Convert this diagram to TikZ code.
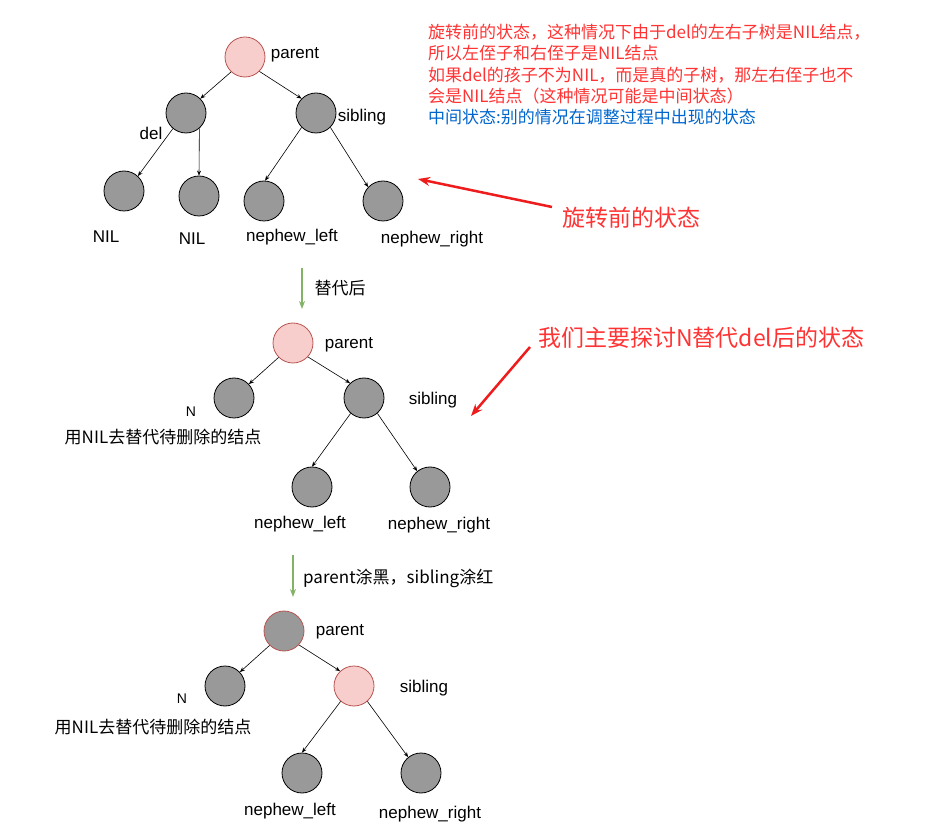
\documentclass[tikz,border=0pt]{standalone}
\usepackage{fontspec}
\setmainfont{Liberation Sans}
\newfontfamily\cjk{Noto Sans CJK SC}
\usetikzlibrary{arrows.meta}
\definecolor{gfill}{HTML}{999999}
\definecolor{pfill}{HTML}{F8CECC}
\definecolor{pline}{HTML}{B85450}
\definecolor{garrow}{HTML}{82B366}
\definecolor{rtext}{HTML}{FF3333}
\definecolor{btext}{HTML}{0066CC}
\definecolor{rarrow}{HTML}{EE1C1C}
\tikzset{
  blk/.style={circle, draw=black, fill=gfill, minimum size=40pt, inner sep=0pt, line width=0.8pt},
  rednode/.style={circle, draw=pline, fill=pfill, minimum size=40pt, inner sep=0pt, line width=0.8pt},
  blkred/.style={blk, draw=pline},
  lbl/.style={font=\fontsize{17}{20}\selectfont, inner sep=0pt, yshift=-2pt},
  nlbl/.style={font=\fontsize{14}{16}\selectfont, inner sep=0pt},
  cn/.style={font=\cjk\fontsize{17}{20}\selectfont, inner sep=0pt},
  cnsmall/.style={font=\cjk\fontsize{17}{20}\selectfont, inner sep=0pt},
  cnred/.style={font=\cjk\fontsize{17}{20}\selectfont, inner sep=0pt, text=rtext, anchor=west},
  cnbig/.style={font=\cjk\fontsize{23}{26}\selectfont, inner sep=0pt, text=rtext, anchor=west},
  tedge/.style={-{Stealth[length=5pt,width=4pt]}, line width=0.6pt},
  garr/.style={-{Stealth[length=8pt,width=6pt]}, draw=garrow, line width=1.3pt},
  rarr/.style={-{Stealth[length=12pt,width=9pt]}, draw=rarrow, line width=2.5pt},
}
\begin{document}
\begin{tikzpicture}[x=1pt,y=-1pt]
\useasboundingbox (0,0) rectangle (930,834);

% ---------- top tree ----------
\node[rednode] (p1) at (245,57) {};
\node[blk] (d1) at (186,113) {};
\node[blk] (s1) at (316,113) {};
\node[blk] (n1a) at (124,191) {};
\node[blk] (n1b) at (199,196) {};
\node[blk] (nl1) at (264,201) {};
\node[blk] (nr1) at (383,201) {};
\draw[tedge] (p1.-133) -- (d1.45);
\draw[tedge] (p1.-45) -- (s1.135);
\draw[tedge] (d1.-130) -- (n1a.47);
\draw[tedge] (d1.-49) -- (n1b.north);
\draw[tedge] (s1.-135) -- (nl1.87);
\draw[tedge] (s1.-45) -- (nr1.137);
\node[lbl] (lp1) at (295,53) {parent};
\node[lbl] (ls1) at (362,115) {sibling};
\node[lbl] (ld1) at (151,131) {del};
\node[lbl] (lna) at (106,235) {NIL};
\node[lbl] (lnb) at (192,237) {NIL};
\node[lbl] (lnl1) at (292,235) {nephew\_left};
\node[lbl] (lnr1) at (432,237) {nephew\_right};

% ---------- notes ----------
\node[cnred] (t1) at (428,32) {旋转前的状态，这种情况下由于del的左右子树是NIL结点，};
\node[cnred] (t2) at (428,53) {所以左侄子和右侄子是NIL结点};
\node[cnred] (t3) at (428,75) {如果del的孩子不为NIL，而是真的子树，那左右侄子也不};
\node[cnred] (t4) at (428,96) {会是NIL结点（这种情况可能是中间状态）};
\node[cnred, text=btext] (t5) at (428,117) {中间状态:别的情况在调整过程中出现的状态};
\node[cnbig] (big1) at (562,218) {旋转前的状态};
\node[cnbig] (big2) at (538,338) {我们主要探讨N替代del后的状态};
\coordinate (r1a) at (552,207);
\coordinate (r1b) at (418,179);
\coordinate (r2a) at (530,347);
\coordinate (r2b) at (471,416);
\draw[rarr] (r1a) -- (r1b);
\draw[rarr] (r2a) -- (r2b);

% ---------- first green step ----------
\coordinate (g1a) at (302,268);
\coordinate (g1b) at (302,309);
\draw[garr] (g1a) -- (g1b);
\node[cn] (g1l) at (340,288) {替代后};

% ---------- middle tree ----------
\node[rednode] (p2) at (293,343) {};
\node[blk] (N2) at (234,398) {};
\node[blk] (s2) at (364,398) {};
\node[blk] (nl2) at (312,487) {};
\node[blk] (nr2) at (430,487) {};
\draw[tedge] (p2.-135) -- (N2.43);
\draw[tedge] (p2.-43) -- (s2.133);
\draw[tedge] (s2.-131) -- (nl2.90);
\draw[tedge] (s2.-49) -- (nr2.129);
\node[lbl] (lp2) at (349,343) {parent};
\node[lbl] (ls2) at (433,398) {sibling};
\node[nlbl] (lN2) at (191,412) {N};
\node[cnsmall] (lr2) at (163,437) {用NIL去替代待删除的结点};
\node[lbl] (lnl2) at (300,522) {nephew\_left};
\node[lbl] (lnr2) at (439,523) {nephew\_right};

% ---------- second green step ----------
\coordinate (g2a) at (293,555);
\coordinate (g2b) at (293,597);
\draw[garr] (g2a) -- (g2b);
\node[cn, anchor=west] (g2l) at (303,578) {parent涂黑，sibling涂红};

% ---------- bottom tree ----------
\node[blkred] (p3) at (284,631) {};
\node[blk] (N3) at (225,686) {};
\node[rednode] (s3) at (354,686) {};
\node[blk] (nl3) at (302,773) {};
\node[blk] (nr3) at (421,773) {};
\draw[tedge] (p3.-135) -- (N3.43);
\draw[tedge] (p3.-43) -- (s3.133);
\draw[tedge] (s3.-131) -- (nl3.90);
\draw[tedge] (s3.-49) -- (nr3.129);
\node[lbl] (lp3) at (340,630) {parent};
\node[lbl] (ls3) at (424,686) {sibling};
\node[nlbl] (lN3) at (182,699) {N};
\node[cnsmall] (lr3) at (153,727) {用NIL去替代待删除的结点};
\node[lbl] (lnl3) at (290,809) {nephew\_left};
\node[lbl] (lnr3) at (430,812) {nephew\_right};
\end{tikzpicture}
\end{document}
